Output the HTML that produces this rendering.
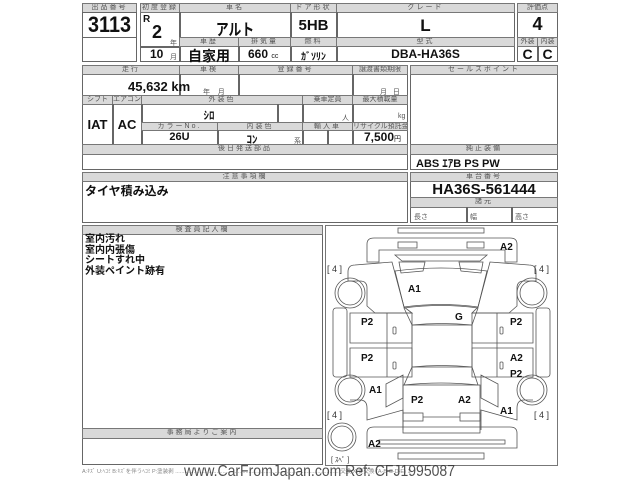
<!DOCTYPE html>
<html><head><meta charset="utf-8"><style>
body{margin:0;width:640px;height:480px;background:#fff;position:relative;overflow:hidden;font-family:"Liberation Sans","Noto Sans CJK JP",sans-serif;}
.b{position:absolute;border:1px solid #666;box-sizing:border-box;}
.h{position:absolute;background:#d9d9d9;border:1px solid #777;box-sizing:border-box;font-size:7px;color:#555;text-align:center;line-height:8px;letter-spacing:2px;white-space:nowrap;overflow:hidden;}
.v{position:absolute;font-weight:bold;color:#111;white-space:nowrap;text-align:center;}
.s{position:absolute;font-size:7px;color:#555;}
</style></head><body>
<div class="b" style="left:82px;top:3px;width:55px;height:59px"></div>
<div class="h" style="left:82px;top:3px;width:55px;height:10px">出品番号</div>
<div class="b" style="left:82px;top:12px;width:55px;height:26px"></div>
<div class="v" style="left:82px;top:13px;width:55px;font-size:22px;line-height:24px;transform:scaleX(.9)">3113</div>
<div class="b" style="left:140px;top:3px;width:375px;height:59px"></div>
<div class="h" style="left:140px;top:3px;width:40px;height:10px">初度登録</div>
<div class="h" style="left:179px;top:3px;width:112px;height:10px">車名</div>
<div class="h" style="left:290px;top:3px;width:47px;height:10px">ドア形状</div>
<div class="h" style="left:336px;top:3px;width:179px;height:10px">グレード</div>
<div class="b" style="left:179px;top:12px;width:1px;height:50px"></div>
<div class="b" style="left:290px;top:12px;width:1px;height:50px"></div>
<div class="b" style="left:336px;top:12px;width:1px;height:50px"></div>
<div class="v" style="left:143px;top:14px;font-size:10px">R</div>
<div class="v" style="left:152px;top:22px;font-size:18px">2</div>
<div class="s" style="left:170px;top:38px">年</div>
<div class="b" style="left:140px;top:46px;width:40px;height:1px"></div>
<div class="v" style="left:150px;top:47px;font-size:12px">10</div>
<div class="s" style="left:170px;top:52px">月</div>
<div class="v" style="left:179px;top:16px;width:112px;font-size:16px;transform:scaleX(.8)">アルト</div>
<div class="v" style="left:290px;top:17px;width:47px;font-size:15px">5HB</div>
<div class="v" style="left:336px;top:16px;width:179px;font-size:17px">L</div>
<div class="h" style="left:179px;top:37px;width:60px;height:10px">車歴</div>
<div class="h" style="left:238px;top:37px;width:53px;height:10px">排気量</div>
<div class="h" style="left:290px;top:37px;width:47px;height:10px">燃料</div>
<div class="h" style="left:336px;top:37px;width:179px;height:10px">型式</div>
<div class="b" style="left:238px;top:46px;width:1px;height:16px"></div>
<div class="v" style="left:179px;top:46px;width:60px;font-size:14px">自家用</div>
<div class="v" style="left:248px;top:47px;font-size:12px">660 <span style="font-size:7px;font-weight:normal">cc</span></div>
<div class="v" style="left:290px;top:48px;width:47px;font-size:10px">ｶﾞｿﾘﾝ</div>
<div class="v" style="left:336px;top:47px;width:179px;font-size:12px">DBA-HA36S</div>
<div class="b" style="left:517px;top:3px;width:41px;height:59px"></div>
<div class="h" style="left:517px;top:3px;width:41px;height:10px;letter-spacing:0">評価点</div>
<div class="v" style="left:517px;top:14px;width:41px;font-size:18px">4</div>
<div class="h" style="left:517px;top:37px;width:21px;height:10px;letter-spacing:0">外装</div>
<div class="h" style="left:537px;top:37px;width:21px;height:10px;letter-spacing:0">内装</div>
<div class="b" style="left:537px;top:46px;width:1px;height:16px"></div>
<div class="v" style="left:517px;top:46px;width:21px;font-size:14px">C</div>
<div class="v" style="left:537px;top:46px;width:21px;font-size:14px">C</div>
<div class="b" style="left:82px;top:65px;width:326px;height:105px"></div>
<div class="h" style="left:82px;top:65px;width:98px;height:10px">走行</div>
<div class="h" style="left:179px;top:65px;width:60px;height:10px">車検</div>
<div class="h" style="left:238px;top:65px;width:115px;height:10px">登録番号</div>
<div class="h" style="left:352px;top:65px;width:56px;height:10px;letter-spacing:0">譲渡書類期限</div>
<div class="b" style="left:179px;top:74px;width:1px;height:22px"></div>
<div class="b" style="left:238px;top:74px;width:1px;height:22px"></div>
<div class="b" style="left:352px;top:74px;width:1px;height:22px"></div>
<div class="v" style="left:128px;top:79px;font-size:13px">45,632 km</div>
<div class="s" style="left:203px;top:87px">年 &nbsp;&nbsp; 月</div>
<div class="s" style="left:380px;top:87px">月 &nbsp; 日</div>
<div class="h" style="left:82px;top:95px;width:31px;height:10px;letter-spacing:0">シフト</div>
<div class="h" style="left:112px;top:95px;width:30px;height:10px;letter-spacing:0">エアコン</div>
<div class="h" style="left:141px;top:95px;width:162px;height:10px">外装色</div>
<div class="h" style="left:302px;top:95px;width:51px;height:10px;letter-spacing:0">乗車定員</div>
<div class="h" style="left:352px;top:95px;width:56px;height:10px;letter-spacing:0">最大積載量</div>
<div class="b" style="left:112px;top:104px;width:1px;height:41px"></div>
<div class="b" style="left:141px;top:104px;width:1px;height:41px"></div>
<div class="b" style="left:277px;top:104px;width:1px;height:19px"></div>
<div class="b" style="left:302px;top:104px;width:1px;height:41px"></div>
<div class="b" style="left:352px;top:104px;width:1px;height:41px"></div>
<div class="v" style="left:82px;top:117px;width:31px;font-size:13px">IAT</div>
<div class="v" style="left:112px;top:117px;width:30px;font-size:13px">AC</div>
<div class="v" style="left:141px;top:107px;width:136px;font-size:11px">ｼﾛ</div>
<div class="s" style="left:342px;top:113px">人</div>
<div class="s" style="left:398px;top:113px">kg</div>
<div class="h" style="left:141px;top:122px;width:77px;height:9px;line-height:7px">カラーNo.</div>
<div class="h" style="left:217px;top:122px;width:86px;height:9px;line-height:7px">内装色</div>
<div class="h" style="left:302px;top:122px;width:51px;height:9px;line-height:7px">輸入車</div>
<div class="h" style="left:352px;top:122px;width:56px;height:9px;line-height:7px;letter-spacing:0">リサイクル預託金</div>
<div class="b" style="left:217px;top:130px;width:1px;height:15px"></div>
<div class="b" style="left:327px;top:130px;width:1px;height:15px"></div>
<div class="v" style="left:141px;top:131px;width:77px;font-size:11px">26U</div>
<div class="v" style="left:217px;top:131px;width:70px;font-size:11px">ｺﾝ</div>
<div class="s" style="left:294px;top:136px">系</div>
<div class="v" style="left:364px;top:130px;font-size:12px">7,500<span style="font-size:7px;font-weight:normal">円</span></div>
<div class="h" style="left:82px;top:144px;width:326px;height:11px">後日発送部品</div>
<div class="b" style="left:410px;top:65px;width:148px;height:105px"></div>
<div class="h" style="left:410px;top:65px;width:148px;height:10px">セールスポイント</div>
<div class="h" style="left:410px;top:144px;width:148px;height:11px">純正装備</div>
<div class="v" style="left:416px;top:155px;font-size:11px">ABS ｴｱB PS PW</div>
<div class="b" style="left:82px;top:172px;width:326px;height:51px"></div>
<div class="h" style="left:82px;top:172px;width:326px;height:10px">注意事項欄</div>
<div class="v" style="left:85px;top:182px;font-size:12px">タイヤ積み込み</div>
<div class="b" style="left:410px;top:172px;width:148px;height:51px"></div>
<div class="h" style="left:410px;top:172px;width:148px;height:10px">車台番号</div>
<div class="v" style="left:410px;top:181px;width:148px;font-size:15px">HA36S-561444</div>
<div class="h" style="left:410px;top:197px;width:148px;height:11px">諸元</div>
<div class="b" style="left:466px;top:207px;width:1px;height:16px"></div>
<div class="b" style="left:511px;top:207px;width:1px;height:16px"></div>
<div class="s" style="left:414px;top:212px">長さ</div>
<div class="s" style="left:470px;top:212px">幅</div>
<div class="s" style="left:515px;top:212px">高さ</div>
<div class="b" style="left:82px;top:225px;width:241px;height:240px"></div>
<div class="h" style="left:82px;top:225px;width:241px;height:10px">検査員記入欄</div>
<div class="v" style="left:85px;top:235px;font-size:10px;line-height:10.5px;text-align:left">室内汚れ<br>室内内張傷<br>シートすれ中<br>外装ペイント跡有</div>
<div class="h" style="left:82px;top:428px;width:241px;height:11px">事務局よりご案内</div>
<svg style="position:absolute;left:0;top:0" width="640" height="480" viewBox="0 0 640 480">
<g fill="none" stroke="#555" stroke-width="0.8">
<rect x="325.5" y="225.5" width="232" height="240"/>
<rect x="398" y="228" width="86" height="5"/>
<path d="M374 238 H510 Q517 238 517 244 V262 H505 V250 H379 V262 H367 V244 Q367 238 374 238Z"/>
<rect x="398" y="242" width="19" height="6"/><rect x="467" y="242" width="17" height="6"/>
<path d="M395 255 H487 L480 261 H402Z"/>
<path d="M399 262 L425 262 L423 271 L401 273Z M483 262 L459 262 L461 271 L481 273Z"/>
<path d="M395 271 Q441 265 487 271 L478 307 Q441 302 404 307Z"/>
<path d="M404 308 Q441 303 478 308 L472 325 Q441 322 412 325Z"/>
<rect x="412" y="325" width="60" height="42"/>
<path d="M412 367 Q441 364 472 367 L478 385 Q441 381 404 385Z"/>
<rect x="403" y="385" width="77" height="48"/>
<rect x="403" y="413" width="20" height="8"/><rect x="460" y="413" width="20" height="8"/>
<line x1="423" y1="417" x2="460" y2="417"/>
<path d="M355 265 Q348 265 348 272 V281 H360 Q367 281 367 288 V306 L375 313 H412 L404 307 L392 262 Z"/>
<path d="M529 265 Q536 265 536 272 V281 H524 Q517 281 517 288 V306 L509 313 H472 L478 307 L490 262 Z"/>
<path d="M350 313 H412 V343 H350Z M350 348 H412 V377 H350Z"/>
<path d="M472 313 H533 V343 H472Z M472 348 H533 V377 H472Z"/>
<line x1="387" y1="313" x2="387" y2="377"/><line x1="497" y1="313" x2="497" y2="377"/>
<path d="M386 384 L403 375 V398 L386 407Z M498 384 L481 375 V398 L498 407Z"/>
<path d="M350 400 H360 Q367 400 367 408 V420 L403 410 V430 M533 400 H524 Q517 400 517 408 V420 L481 410 V430"/>
<rect x="333" y="308" width="14" height="69" rx="3"/><rect x="536" y="308" width="14" height="69" rx="3"/>
<path d="M374 427 H510 Q517 427 517 433 V448 H367 V433 Q367 427 374 427Z"/>
<rect x="379" y="440" width="126" height="4"/>
<rect x="398" y="453" width="86" height="6"/>
<rect x="393" y="327" width="3" height="7" rx="1"/><rect x="393" y="362" width="3" height="7" rx="1"/>
<rect x="500" y="327" width="3" height="7" rx="1"/><rect x="500" y="362" width="3" height="7" rx="1"/>
<circle cx="350" cy="293" r="15"/><circle cx="350" cy="293" r="12"/>
<circle cx="532" cy="293" r="15"/><circle cx="532" cy="293" r="12"/>
<circle cx="350" cy="390" r="15"/><circle cx="350" cy="390" r="12"/>
<circle cx="532" cy="390" r="15"/><circle cx="532" cy="390" r="12"/>
<circle cx="342" cy="437" r="14"/><circle cx="342" cy="437" r="11"/>
</g>
<g font-family="Liberation Sans, sans-serif" font-size="10" font-weight="bold" fill="#111">
<text x="500" y="250">A2</text><text x="408" y="292">A1</text><text x="455" y="320">G</text>
<text x="361" y="325">P2</text><text x="361" y="361">P2</text>
<text x="510" y="325">P2</text><text x="510" y="361">A2</text><text x="510" y="377">P2</text>
<text x="369" y="393">A1</text><text x="411" y="403">P2</text><text x="458" y="403">A2</text>
<text x="500" y="414">A1</text><text x="368" y="447">A2</text>
</g>
<g font-family="Liberation Sans, sans-serif" font-size="9" fill="#333">
<text x="327" y="272">[ 4 ]</text><text x="534" y="272">[ 4 ]</text>
<text x="327" y="418">[ 4 ]</text><text x="534" y="418">[ 4 ]</text>
<text x="331" y="462" font-size="7">[ ｽﾍﾟ ]</text>
</g>
<text x="82" y="473" font-family="Liberation Sans, Noto Sans CJK JP, sans-serif" font-size="5.5" fill="#888">A:ｷｽﾞ U:ﾍｺﾐ B:ｷｽﾞを伴うﾍｺﾐ P:塗装剥 ........................................................................................................... 交換 X:要交換 (A-B-C-D-E) 1</text>
<text x="184" y="476" font-family="Liberation Sans, sans-serif" font-size="16" fill="#333" fill-opacity="0.85" textLength="271" lengthAdjust="spacingAndGlyphs">www.CarFromJapan.com Ref: CFJ1995087</text>
</svg>
</body></html>
